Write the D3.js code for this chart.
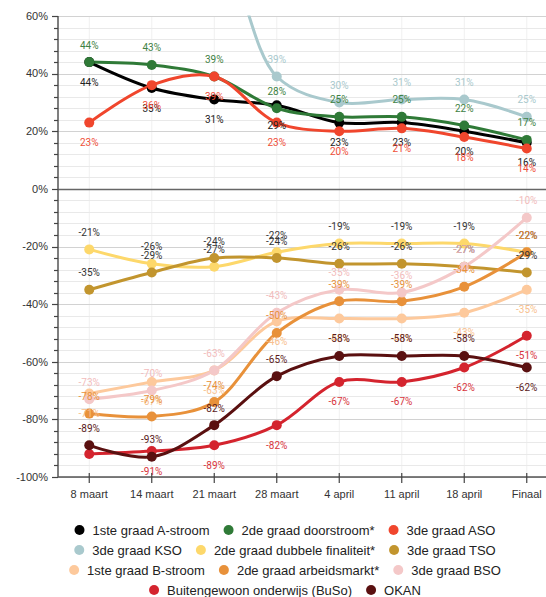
<!DOCTYPE html>
<html>
<head>
<meta charset="utf-8">
<script src="https://cdn.jsdelivr.net/npm/d3@7"></script>
<style>
  body { margin: 0; background: #fff; }
  svg { display: block; }
</style>
</head>
<body>
<svg id="chart" width="546" height="597"></svg>
<script>
// ---- data ----
const categories = ["8 maart", "14 maart", "21 maart", "28 maart", "4 april", "11 april", "18 april", "Finaal"];
const seriesNames = [
  "1ste graad A-stroom", "2de graad doorstroom*", "3de graad ASO",
  "3de graad KSO", "2de graad dubbele finaliteit*", "3de graad TSO",
  "1ste graad B-stroom", "2de graad arbeidsmarkt*", "3de graad BSO",
  "Buitengewoon onderwijs (BuSo)", "OKAN"
];
const aStroom      = [44, 35, 31, 29, 23, 23, 20, 16];
const doorstroom   = [44, 43, 39, 28, 25, 25, 22, 17];
const aso          = [23, 36, 39, 23, 20, 21, 18, 14];
const kso          = [92, 90, 87, 39, 30, 31, 31, 25];
const dubbele      = [-21, -26, -27, -22, -19, -19, -19, -22];
const tso          = [-35, -29, -24, -24, -26, -26, -27, -29];
const bStroom      = [-71, -67, -63, -46, -45, -45, -43, -35];
const arbeidsmarkt = [-78, -79, -74, -50, -39, -39, -34, -22];
const bso          = [-73, -70, -63, -43, -35, -36, -27, -10];
const buso         = [-92, -91, -89, -82, -67, -67, -62, -51];
const okan         = [-89, -93, -82, -65, -58, -58, -58, -62];
const yTicks = [60, 40, 20, 0, -20, -40, -60, -80, -100];

// ---- styles ----
const colors = ["#000000", "#2f7a37", "#f0462d", "#a9c9cd", "#fdd86b", "#c2952e",
                "#fdc99c", "#e8913a", "#f4c8c8", "#d4242e", "#5a1010"];
const labelColors = ["#222222", "#3f8244", "#f0503a", "#a9c9cd", "#333333", "#333333",
                     "#f8bf8e", "#e8913a", "#f2bcbc", "#d8353d", "#5a1a1a"];
const labelSide = [1, -1, 1, -1, -1, -1, 1, -1, -1, 1, -1]; // 1 = below, -1 = above
const values = [aStroom, doorstroom, aso, kso, dubbele, tso, bStroom, arbeidsmarkt, bso, buso, okan];
// label exceptions: [seriesIndex, categoryIndex, 'hide' | 'flip']
const labelExceptions = [[9, 0, "hide"], [10, 7, "flip"]];

const svg = d3.select("#chart");
const mLeft = 58, mRight = 546, mTop = 16, mBottom = 477;

const x = d3.scalePoint().domain(categories).range([mLeft, 558]).padding(0.5);
const y = d3.scaleLinear().domain([-100, 60]).range([mBottom, mTop]);

// clip
svg.append("defs").append("clipPath").attr("id", "plotclip")
  .append("rect").attr("x", mLeft).attr("y", mTop - 0.5).attr("width", mRight - mLeft).attr("height", mBottom - mTop + 1);

// vertical grid
svg.append("g").selectAll("line").data(categories).join("line")
  .attr("x1", d => x(d)).attr("x2", d => x(d))
  .attr("y1", mTop).attr("y2", mBottom)
  .attr("stroke", "#f0f0f0").attr("stroke-width", 1);

// horizontal grid (every 4%)
const gridVals = d3.range(-100, 60.1, 4);
svg.append("g").selectAll("line").data(gridVals).join("line")
  .attr("x1", mLeft).attr("x2", mRight)
  .attr("y1", d => Math.round(y(d)) + 0.5).attr("y2", d => Math.round(y(d)) + 0.5)
  .attr("stroke", d => d === 0 ? "#666" : (d % 20 === 0 ? "#d2d2d2" : "#e9e9e9"))
  .attr("stroke-width", d => d === 0 ? 1.5 : 1);

// y axis
const yAxisG = svg.append("g").attr("transform", `translate(${mLeft},0)`);
yAxisG.append("line").attr("x1", 0).attr("x2", 0).attr("y1", mTop).attr("y2", mBottom)
  .attr("stroke", "#555").attr("stroke-width", 1.5);
yAxisG.selectAll("line.minor").data(gridVals).join("line").attr("class", "minor")
  .attr("x1", d => d % 20 === 0 ? -6 : -4).attr("x2", 0)
  .attr("y1", d => Math.round(y(d)) + 0.5).attr("y2", d => Math.round(y(d)) + 0.5)
  .attr("stroke", "#444").attr("stroke-width", 1.2);
yAxisG.selectAll("text").data(yTicks).join("text")
  .attr("x", -10).attr("y", d => y(d)).attr("dy", "0.35em")
  .attr("text-anchor", "end")
  .attr("font-family", "'Liberation Sans', Arial, sans-serif").attr("font-size", 11)
  .attr("fill", "#333")
  .text(d => d + "%");

// x axis
const xAxisG = svg.append("g");
xAxisG.append("line").attr("x1", mLeft).attr("x2", mRight).attr("y1", mBottom).attr("y2", mBottom)
  .attr("stroke", "#555").attr("stroke-width", 1.5);
xAxisG.selectAll("line.tick").data(categories).join("line").attr("class", "tick")
  .attr("x1", d => x(d)).attr("x2", d => x(d))
  .attr("y1", mBottom - 4).attr("y2", mBottom + 6)
  .attr("stroke", "#444").attr("stroke-width", 1.2);
xAxisG.selectAll("text").data(categories).join("text")
  .attr("x", d => x(d)).attr("y", 494).attr("dy", "0.35em")
  .attr("text-anchor", "middle")
  .attr("font-family", "'Liberation Sans', Arial, sans-serif").attr("font-size", 11)
  .attr("fill", "#333")
  .text(d => d);

// lines
const line = d3.line()
  .x((d, i) => x(categories[i]))
  .y(d => y(d))
  .curve(d3.curveCatmullRom.alpha(0.5));

const plot = svg.append("g").attr("clip-path", "url(#plotclip)");
values.forEach((vals, s) => {
  plot.append("path").datum(vals)
    .attr("d", line)
    .attr("fill", "none")
    .attr("stroke", colors[s])
    .attr("stroke-width", 3)
    .attr("stroke-linejoin", "round")
    .attr("stroke-linecap", "round");
});
values.forEach((vals, s) => {
  plot.append("g").selectAll("circle").data(vals).join("circle")
    .attr("cx", (d, i) => x(categories[i]))
    .attr("cy", d => y(d))
    .attr("r", 5)
    .attr("fill", colors[s]);
});

// labels (only for points inside the visible value range)
const labelsG = svg.append("g");
values.forEach((vals, s) => {
  vals.forEach((v, i) => {
    if (v > y.domain()[1]) return;
    const ex = labelExceptions.find(e => e[0] === s && e[1] === i);
    if (ex && ex[2] === "hide") return;
    let side = labelSide[s];
    if (ex && ex[2] === "flip") side = -side;
    labelsG.append("text")
      .attr("x", x(categories[i]))
      .attr("y", y(v) + (side > 0 ? 20 : -17))
      .attr("dy", "0.35em")
      .attr("text-anchor", "middle")
      .attr("font-family", "Roboto, 'Liberation Sans', sans-serif")
      .attr("font-size", 10)
      .attr("fill", labelColors[s])
      .text(v + "%");
  });
});

// legend
const legendRows = [[0, 1, 2], [3, 4, 5], [6, 7, 8], [9, 10]];
const legendYs = [530, 550, 570, 590];
const legendCenter = 285;
const legendG = svg.append("g");
legendRows.forEach((row, r) => {
  const rowG = legendG.append("g");
  let cx = 0;
  row.forEach(s => {
    const itemG = rowG.append("g").attr("transform", `translate(${cx},0)`);
    itemG.append("circle").attr("cx", 5).attr("cy", 0).attr("r", 5).attr("fill", colors[s]);
    const t = itemG.append("text").attr("x", 18).attr("y", 0).attr("dy", "0.35em")
      .attr("font-family", "'Liberation Sans', Arial, sans-serif").attr("font-size", 13)
      .attr("fill", "#222").text(seriesNames[s]);
    const w = t.node().getComputedTextLength();
    cx += 18 + w + 14;
  });
  const total = cx - 14;
  rowG.attr("transform", `translate(${legendCenter - total / 2},${legendYs[r]})`);
});
</script>
</body>
</html>
